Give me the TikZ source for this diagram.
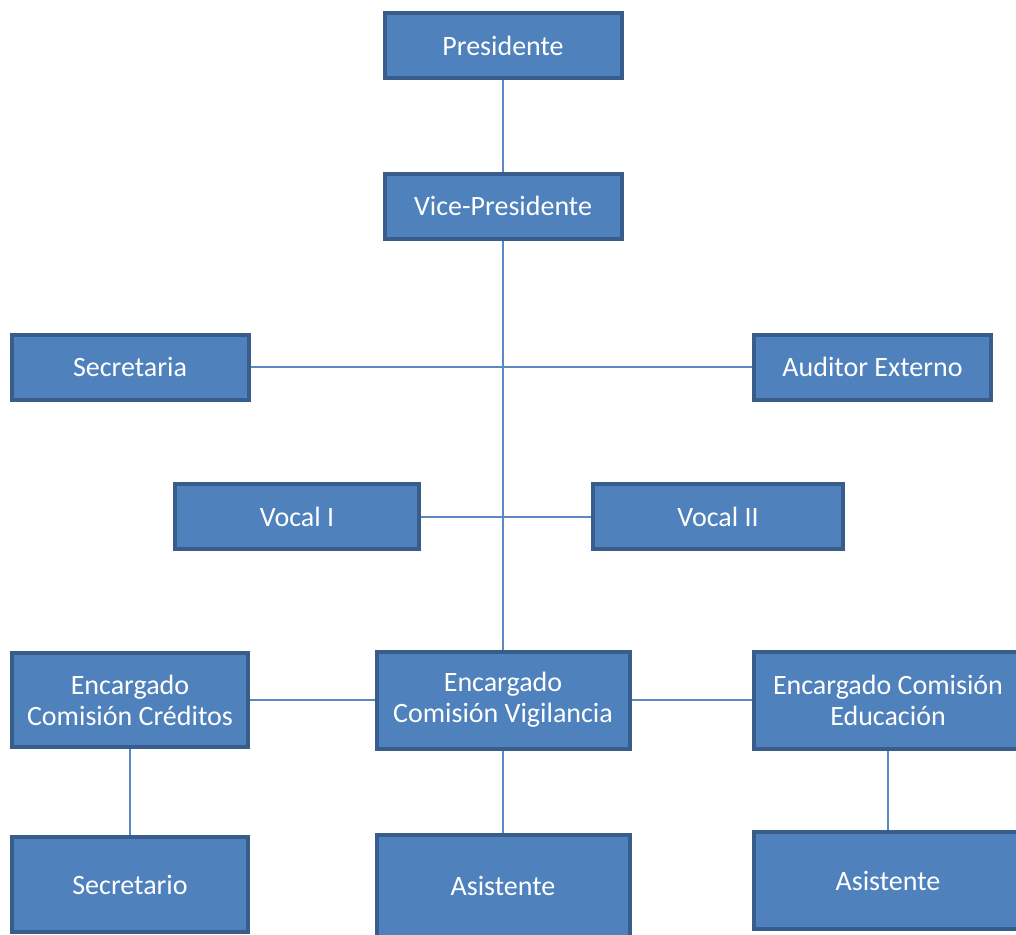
\documentclass[tikz,border=0pt]{standalone}
\usepackage{fontspec}
\setmainfont{Carlito}
\usetikzlibrary{positioning}
\definecolor{boxfill}{HTML}{4F81BD}
\definecolor{boxline}{HTML}{385D8A}
\definecolor{conn}{HTML}{5B87C3}

\tikzset{
  cargo/.style = {draw=boxline, fill=boxfill, line width=4pt, text=white,
    align=center, inner sep=2pt, minimum width=237pt, minimum height=65pt,
    font=\fontsize{28}{31}\selectfont},
  enlace/.style = {draw=conn, line width=2pt}
}

\begin{document}
\begin{tikzpicture}[x=1pt, y=-1pt]
    \useasboundingbox (0,0) rectangle (1016,934);

    \node[cargo] (pres) at (503,45.5) {Presidente};
    \node[cargo] (vice) at (503,206) {Vice-Presidente};
    \node[cargo] (secr) at (130,367) {Secretaria};
    \node[cargo] (audi) at (872.5,367) {Auditor Externo};
    \node[cargo,minimum width=244pt] (vocA) at (297,516.5) {Vocal I};
    \node[cargo,minimum width=250pt] (vocB) at (718,516.5) {Vocal II};

    \node[cargo,minimum width=236pt,minimum height=94pt] (cred) at (130,700) {Encargado\\Comisión Créditos};
    \node[cargo,minimum width=253pt,minimum height=97pt] (vigi) at (503,700) {Encargado\\Comisión Vigilancia};
    \node[cargo,minimum width=268pt,minimum height=97pt] (educ) at (888,700) {Encargado Comisión\\Educación};

    \node[cargo,minimum width=236pt,minimum height=95pt] (secb) at (130,884.5) {Secretario};
    \node[cargo,minimum width=253pt,minimum height=102pt] (asiA) at (503,886) {Asistente};
    \node[cargo,minimum width=268pt,minimum height=97pt] (asiB) at (888,880.5) {Asistente};

    \draw[enlace] (pres) -- (vice);
    \draw[enlace] (vice) -- (vigi);
    \draw[enlace] (secr) -- (audi);
    \draw[enlace] (vocA) -- (vocB);
    \draw[enlace] (cred) -- (vigi);
    \draw[enlace] (vigi) -- (educ);
    \draw[enlace] (cred) -- (secb);
    \draw[enlace] (vigi) -- (asiA);
    \draw[enlace] (educ) -- (asiB);
\end{tikzpicture}
\end{document}
